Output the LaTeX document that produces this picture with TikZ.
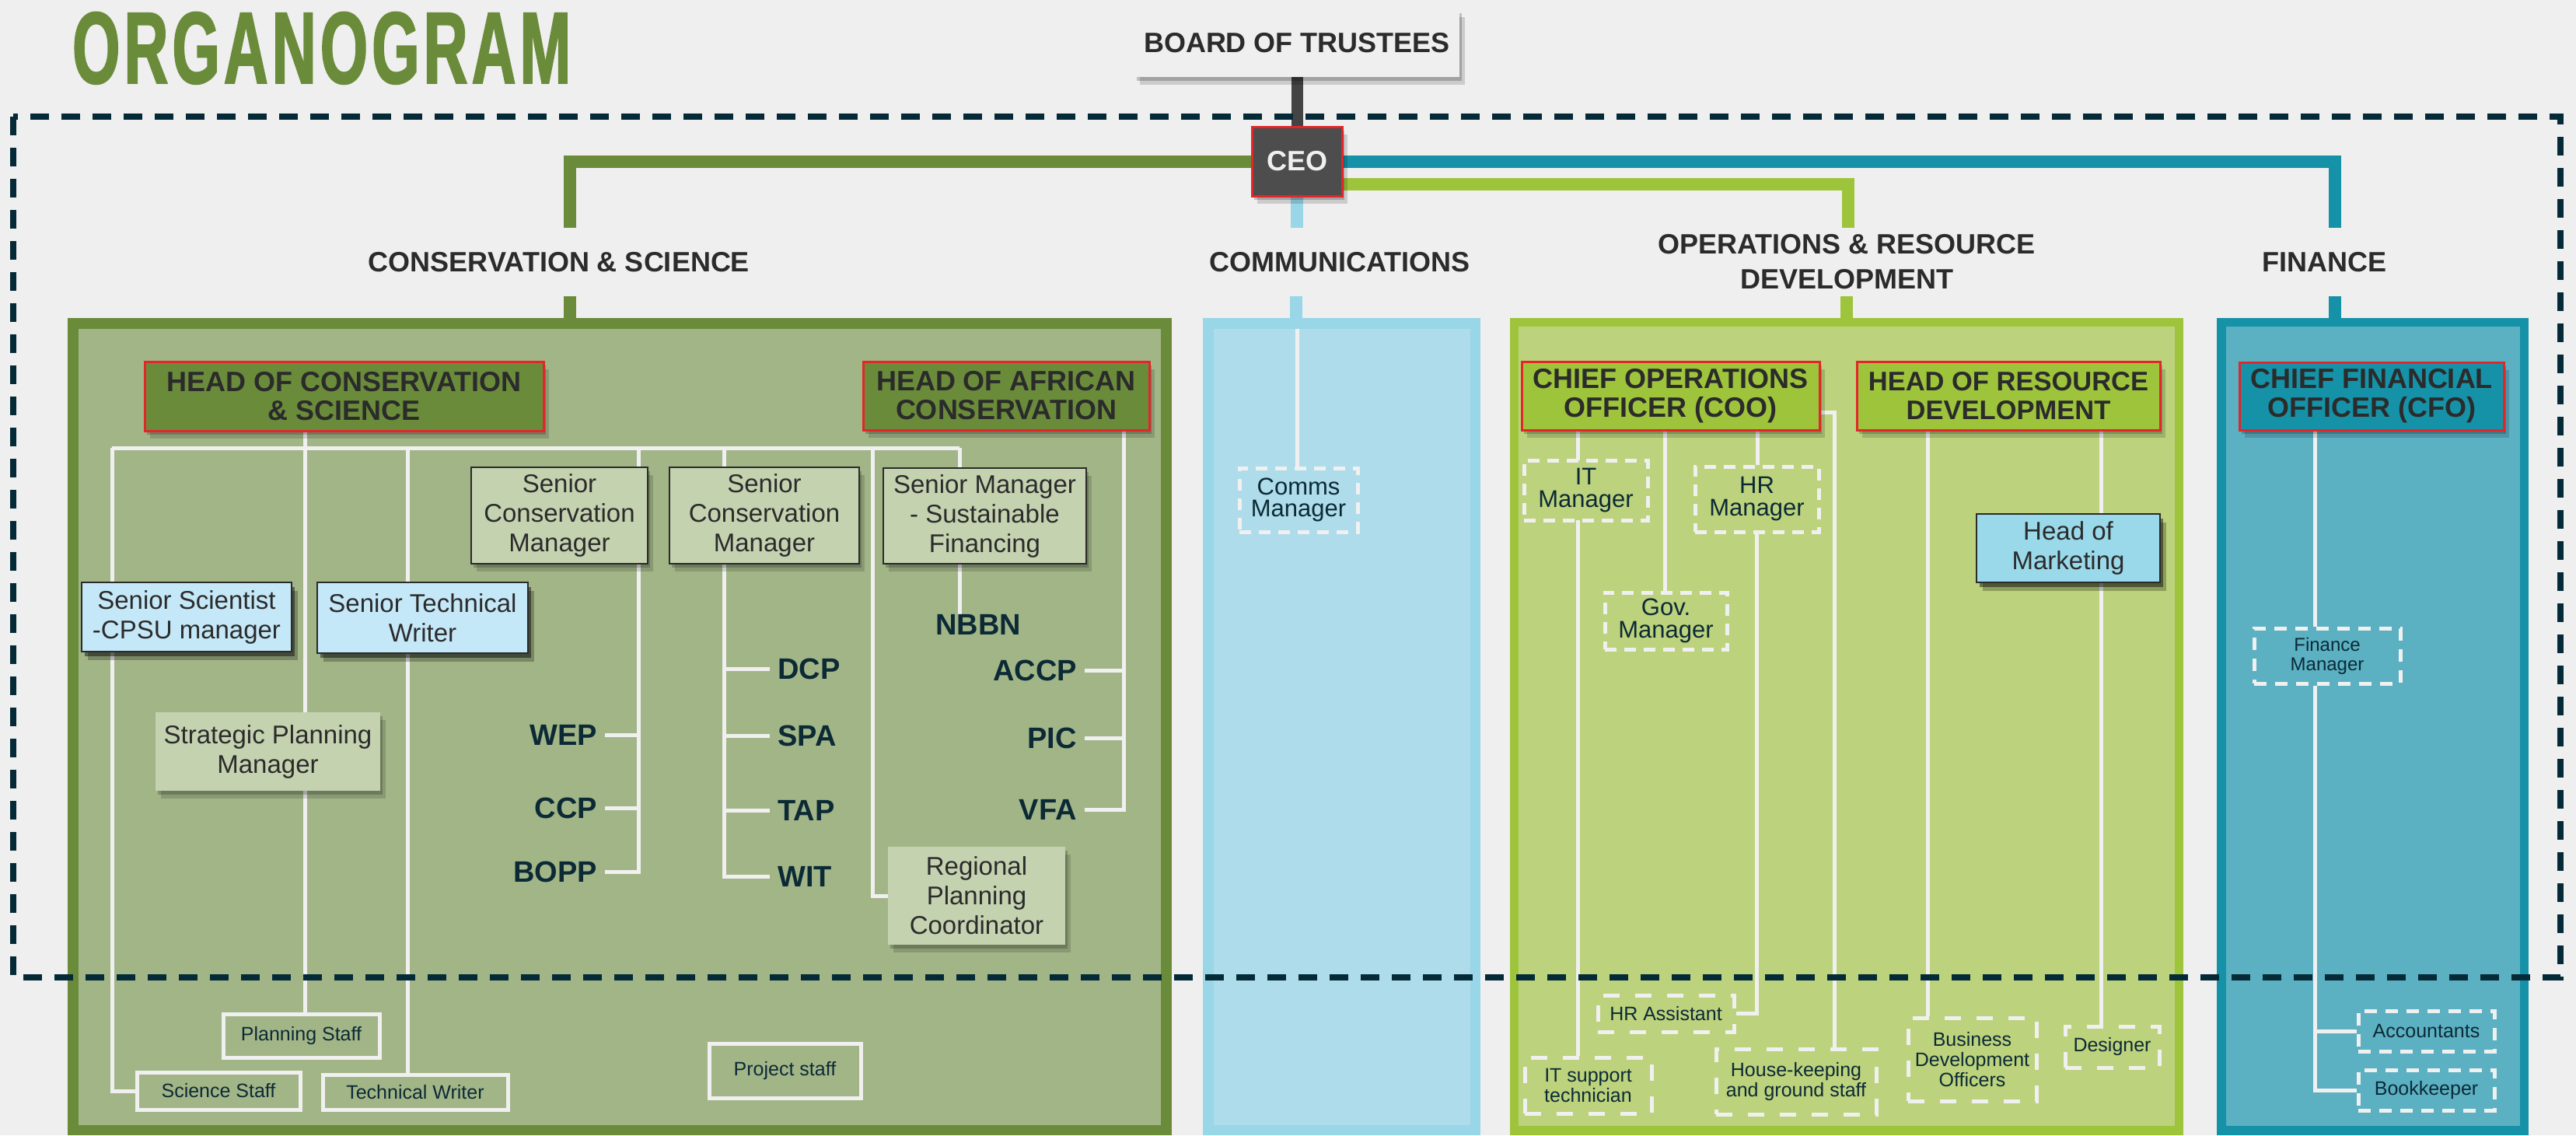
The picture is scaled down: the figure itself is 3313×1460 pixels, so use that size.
\documentclass[tikz,border=0pt]{standalone}
\usepackage{fontspec}
\setmainfont{Liberation Sans}
\newfontfamily\titlefont[FakeStretch=0.6, FakeBold=1.5, LetterSpace=4]{Liberation Sans}
\usetikzlibrary{shadows}
\definecolor{cbg}{HTML}{EFEFEF}
\definecolor{cgreen}{HTML}{6A8C3A}
\definecolor{csage}{HTML}{A2B587}
\definecolor{clime}{HTML}{9EC43C}
\definecolor{climef}{HTML}{BCD27C}
\definecolor{cteal}{HTML}{1592A8}
\definecolor{ctealf}{HTML}{5BB0C2}
\definecolor{cblue}{HTML}{99D6E8}
\definecolor{cbluef}{HTML}{AEDCEA}
\definecolor{cred}{HTML}{E3262A}
\definecolor{cdark}{HTML}{2B2B2B}
\definecolor{cnavy}{HTML}{0C2A36}
\definecolor{cdash}{HTML}{042A38}
\definecolor{cwhite}{HTML}{F0F0F0}
\definecolor{cpale}{HTML}{C4D2B0}
\definecolor{clblue}{HTML}{C5E8F8}
\definecolor{cmkt}{HTML}{99D9EA}
\definecolor{cline}{HTML}{444444}
\definecolor{cceo}{HTML}{4D4D4D}
\pgfdeclarelayer{bgl}
\pgfdeclarelayer{lin}
\pgfdeclarelayer{topl}
\pgfsetlayers{bgl,lin,main,topl}
\tikzset{
  shd/.style={drop shadow={shadow xshift=3pt, shadow yshift=-5pt, opacity=0.2, fill=black},
              drop shadow={shadow xshift=7pt, shadow yshift=-10pt, opacity=0.15, fill=black}},
  shdk/.style={drop shadow={shadow xshift=4pt, shadow yshift=-6pt, opacity=0.45, fill=black},
               drop shadow={shadow xshift=8pt, shadow yshift=-11pt, opacity=0.25, fill=black}},
  headbox/.style={rectangle, draw=cred, line width=3pt, inner sep=0pt, align=center, text=cdark,
     font=\bfseries\fontsize{36}{37}\selectfont, shd},
  boardbox/.style={rectangle, fill=cbg, inner sep=0pt, text=cdark, font=\bfseries\fontsize{36}{37}\selectfont, shd},
  ceobox/.style={rectangle, fill=cceo, draw=cred, line width=3pt, inner sep=0pt, text=cwhite,
     font=\bfseries\fontsize{36}{37}\selectfont, shd},
  seclbl/.style={inner sep=0pt, align=center, text=cdark, font=\bfseries\fontsize{36}{45}\selectfont},
  rolebox/.style={rectangle, draw=cdark, line width=2.5pt, fill=cpale, inner sep=0pt, align=center,
     text=cdark, font=\fontsize{33}{38}\selectfont, shd},
  bluebox/.style={rectangle, draw=cdark, line width=2.5pt, fill=clblue, inner sep=0pt, align=center,
     text=cdark, font=\fontsize{33}{38}\selectfont, shdk},
  palebox/.style={rectangle, fill=cpale, inner sep=0pt, align=center, text=cdark,
     font=\fontsize{33}{38}\selectfont, shd},
  mktbox/.style={bluebox, fill=cmkt},
  wbox/.style={rectangle, draw=cwhite, line width=5pt, fill=csage, inner sep=0pt, align=center,
     text=cnavy, font=\fontsize{25}{26}\selectfont},
  dbox/.style={rectangle, draw=cwhite, line width=5pt, dash pattern=on 15pt off 10pt, inner sep=0pt,
     align=center, text=cnavy, font=\fontsize{31}{29}\selectfont},
  dboxs/.style={dbox, dash pattern=on 21pt off 20pt, font=\fontsize{25}{26}\selectfont, fill=climef},
  dboxf/.style={dbox, dash pattern=on 16pt off 11pt, font=\fontsize{25}{25}\selectfont, fill=ctealf},
  lbl/.style={inner xsep=10pt, inner ysep=0pt, text=cnavy, font=\bfseries\fontsize{38}{38}\selectfont},
  wline/.style={draw=cwhite, line width=5pt},
  topc/.style={draw=#1, line width=16pt}
}
\begin{document}
\begin{tikzpicture}[x=1pt,y=-1pt]
\begin{pgfonlayer}{bgl}
\fill[cbg] (0,0) rectangle (3313,1460);
% containers: border colour, then fill
\fill[cgreen] (87,409) rectangle (1507,1460);
\fill[csage] (101,423) rectangle (1493,1447);
\fill[cblue] (1547,409) rectangle (1904,1460);
\fill[cbluef] (1561,423) rectangle (1891,1447);
\fill[clime] (1942,409) rectangle (2808,1460);
\fill[climef] (1953,420) rectangle (2797,1448);
\fill[cteal] (2851,409) rectangle (3252,1460);
\fill[ctealf] (2863,420) rectangle (3241,1448);
\end{pgfonlayer}
\path[use as bounding box] (0,0) rectangle (3313,1460);
\coordinate (consTop) at (733,409);
\coordinate (commsTop) at (1667,409);
\coordinate (opsTop) at (2375,409);
\coordinate (finTop) at (3003,409);

% title
\node[anchor=base west, inner sep=0pt, text=cgreen, font=\titlefont\bfseries\fontsize{131}{131}\selectfont] (title) at (93,107) {ORGANOGRAM};

% top nodes
\node[boardbox, minimum width=418, minimum height=87] (board) at (1668,55.5) {BOARD OF TRUSTEES};
\node[ceobox, minimum width=116, minimum height=89] (ceo) at (1668,207.5) {CEO};

% section labels
\node[seclbl, anchor=base] (cslbl) at (719,349) {CONSERVATION \& SCIENCE};
\node[seclbl, anchor=base] (cmlbl) at (1723,349) {COMMUNICATIONS};
\node[seclbl] (oplbl) at (2375,337) {OPERATIONS \& RESOURCE\\DEVELOPMENT};
\node[seclbl, anchor=base] (filbl) at (2989,349) {FINANCE};

% heads
\node[headbox, fill=cgreen, minimum width=513, minimum height=89] (hcs) at (442.5,509.5) {HEAD OF CONSERVATION\\\& SCIENCE};
\node[headbox, fill=cgreen, minimum width=368, minimum height=88] (hac) at (1294,509) {HEAD OF AFRICAN\\CONSERVATION};
\node[headbox, fill=clime, minimum width=383, minimum height=88] (coo) at (2148.5,509) {CHIEF OPERATIONS\\OFFICER (COO)};
\node[headbox, fill=clime, minimum width=390, minimum height=88, font=\bfseries\fontsize{34.5}{37}\selectfont] (hrd) at (2583,509) {HEAD OF RESOURCE\\DEVELOPMENT};
\node[headbox, fill=cteal, minimum width=340, minimum height=87] (cfo) at (3050,509.5) {CHIEF FINANCIAL\\OFFICER (CFO)};

% conservation roles
\node[rolebox, minimum width=227, minimum height=124] (scm1) at (719.5,663) {Senior\\Conservation\\Manager};
\node[rolebox, minimum width=244, minimum height=124] (scm2) at (983,663) {Senior\\Conservation\\Manager};
\node[rolebox, minimum width=261, minimum height=123] (smsf) at (1266.5,663.5) {Senior Manager\\- Sustainable\\Financing};
\node[bluebox, minimum width=270, minimum height=89] (ssci) at (240,793.5) {Senior Scientist\\-CPSU manager};
\node[bluebox, minimum width=271, minimum height=91] (stw) at (543.5,794.5) {Senior Technical\\Writer};
\node[palebox, minimum width=289, minimum height=101] (spm) at (344.5,966.5) {Strategic Planning\\Manager};
\node[palebox, minimum width=228, minimum height=126] (rpc) at (1256,1152) {Regional\\Planning\\Coordinator};

\node[wbox, minimum width=201, minimum height=56] (plst) at (387.5,1332) {Planning Staff};
\node[wbox, minimum width=210, minimum height=48] (scst) at (281,1403) {Science Staff};
\node[wbox, minimum width=238, minimum height=45] (tw) at (534,1404.5) {Technical Writer};
\node[wbox, minimum width=195, minimum height=70] (prst) at (1009.5,1377) {Project staff};

% programme labels
\node[lbl, anchor=east] (wep) at (778,945) {WEP};
\node[lbl, anchor=east] (ccp) at (778,1039) {CCP};
\node[lbl, anchor=east] (bopp) at (778,1121) {BOPP};
\node[lbl, anchor=west] (dcp) at (990,860) {DCP};
\node[lbl, anchor=west] (spa) at (990,946) {SPA};
\node[lbl, anchor=west] (tap) at (990,1042) {TAP};
\node[lbl, anchor=west] (wit) at (990,1127) {WIT};
\node[lbl, anchor=east] (accp) at (1395,862) {ACCP};
\node[lbl, anchor=east] (pic) at (1395,949.5) {PIC};
\node[lbl, anchor=east] (vfa) at (1395,1041) {VFA};
\node[lbl] (nbbn) at (1258,803) {NBBN};

% communications
\node[dbox, fill=cbluef, font=\fontsize{31}{28}\selectfont, minimum width=152, minimum height=82] (cmm) at (1670,643) {Comms\\Manager};

% operations
\node[dbox, fill=climef, minimum width=159, minimum height=77] (itm) at (2039.5,630.5) {IT\\Manager};
\node[dbox, fill=climef, minimum width=159, minimum height=84] (hrm) at (2259.5,642) {HR\\Manager};
\node[dbox, fill=climef, minimum width=157, minimum height=73] (gov) at (2142.5,798.5) {Gov.\\Manager};
\node[mktbox, minimum width=236, minimum height=88] (mkt) at (2660,705) {Head of\\Marketing};
\node[dboxs, minimum width=175, minimum height=47] (hra) at (2142.5,1303.5) {HR Assistant};
\node[dboxs, minimum width=163, minimum height=72] (its) at (2042.5,1396) {IT support\\technician};
\node[dboxs, minimum width=206, minimum height=84] (hk) at (2310,1391) {House-keeping\\and ground staff};
\node[dboxs, minimum width=165, minimum height=107] (bdo) at (2536.5,1362.5) {Business\\Development\\Officers};
\node[dboxs, minimum width=121, minimum height=53] (des) at (2716.5,1346.5) {Designer};

% finance
\node[dboxf, font=\fontsize{24}{25}\selectfont, minimum width=188, minimum height=71] (finm) at (2993,843.5) {Finance\\Manager};
\node[dboxf, minimum width=175, minimum height=52] (acct) at (3120.5,1326) {Accountants};
\node[dboxf, minimum width=175, minimum height=52] (book) at (3120.5,1402) {Bookkeeper};

% connectors
\begin{pgfonlayer}{lin}
\draw[draw=cline, line width=15pt] (board.south) -- (ceo.north);
\coordinate (csTop) at (733,293);
\coordinate (cmTop) at (1668,293);
\coordinate (opTop) at (2377,293);
\coordinate (fiTop) at (3003,293);
\draw[topc=cgreen] (ceo.west) -| (csTop);
\draw[topc=cteal] (ceo.east) -| (fiTop);
\draw[topc=clime] ([yshift=-29pt]ceo.east) -| (opTop);
\draw[topc=cblue] (ceo.south) -- (cmTop);
\coordinate (csS) at (733,381);
\coordinate (cmS) at (1667,381);
\coordinate (opS) at (2375,381);
\coordinate (fiS) at (3003,381);
\draw[topc=cgreen] (csS) -- (consTop);
\draw[topc=cblue] (cmS) -- (commsTop);
\draw[topc=clime] (opS) -- (opsTop);
\draw[topc=cteal] (fiS) -- (finTop);

% conservation tree
\coordinate (busL) at (144,576);
\coordinate (busR) at (1234,576);
\draw[wline] (busL) -- (busR);
\draw[wline] (scst.west) -| (busL);
\coordinate (v2) at (392,554);
\draw[wline] (v2) -- (v2 |- plst.north);
\coordinate (v3) at (524,576);
\draw[wline] (v3) -- (v3 |- tw.north);
\coordinate (v4) at (821,576);
\draw[wline] (v4) -- (v4 |- scm1.north);
\draw[wline] (v4 |- scm1.south) |- (bopp.east);
\draw[wline] (wep.east) -- (wep.east -| v4);
\draw[wline] (ccp.east) -- (ccp.east -| v4);
\coordinate (v5) at (931,576);
\draw[wline] (v5) -- (v5 |- scm2.north);
\draw[wline] (v5 |- scm2.south) |- (wit.west);
\draw[wline] (dcp.west) -- (dcp.west -| v5);
\draw[wline] (spa.west) -- (spa.west -| v5);
\draw[wline] (tap.west) -- (tap.west -| v5);
\coordinate (v6) at (1122,576);
\draw[wline] (v6) |- (rpc.west);
\coordinate (v7) at (1234,576);
\draw[wline] (v7) -- (v7 |- smsf.north);
\draw[wline] (v7 |- smsf.south) -- (v7 |- nbbn.north);
\coordinate (v8) at (1445,553);
\draw[wline] (v8) |- (vfa.east);
\draw[wline] (accp.east) -- (accp.east -| v8);
\draw[wline] (pic.east) -- (pic.east -| v8);

% communications
\coordinate (c1) at (1668,423);
\draw[wline] (c1) -- (c1 |- cmm.north);

% operations
\coordinate (o1) at (2029,553);
\draw[wline] (o1) -- (o1 |- its.north);
\coordinate (o2) at (2141,553);
\draw[wline] (o2) -- (o2 |- gov.north);
\coordinate (o3) at (2260,553);
\draw[wline] (o3) -- (o3 |- hrm.north);
\draw[wline] (hrm.south) |- (hra.east);
\coordinate (o4) at (2359,530);
\draw[wline] (coo.east |- o4) -- (o4) -- (o4 |- hk.north);
\coordinate (o5) at (2479,553);
\draw[wline] (o5) -- (o5 |- bdo.north);
\coordinate (o6) at (2702,553);
\draw[wline] (o6) -- (o6 |- des.north);

% finance
\coordinate (f1) at (2977,553);
\draw[wline] (f1) -- (f1 |- finm.north);
\draw[wline] (f1 |- finm.south) |- (book.west);
\draw[wline] (acct.west) -- (acct.west -| f1);
\end{pgfonlayer}

\begin{pgfonlayer}{topl}
\draw[draw=cdash, line width=8pt, dash pattern=on 24pt off 16pt] (17,150) rectangle (3293,1257);
\end{pgfonlayer}
\end{tikzpicture}
\end{document}
